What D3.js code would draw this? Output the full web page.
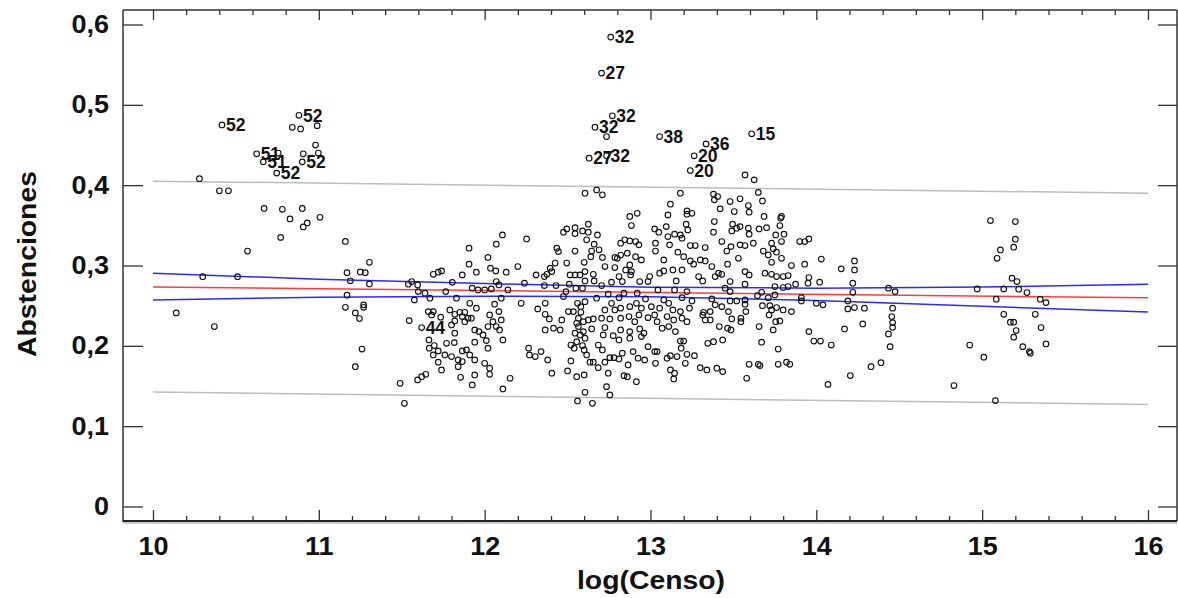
<!DOCTYPE html>
<html>
<head>
<meta charset="utf-8">
<script src="https://cdn.jsdelivr.net/npm/d3@7"></script>
<style>
html,body{margin:0;padding:0;background:#fff;}
svg{display:block;}
text{font-family:"Liberation Sans",Arial,sans-serif;font-weight:bold;fill:#111;}
</style>
</head>
<body>
<script>
// ---------- DATA ----------
const xTicks = [10, 11, 12, 13, 14, 15, 16];
const xTickLabels = ["10", "11", "12", "13", "14", "15", "16"];
const yTicks = [0, 0.1, 0.2, 0.3, 0.4, 0.5, 0.6];
const yTickLabels = ["0", "0,1", "0,2", "0,3", "0,4", "0,5", "0,6"];
const xTitle = "log(Censo)";
const yTitle = "Abstenciones";

// labelled observations [log(Censo), Abstenciones, label]
const labelled = [
  [10.416,0.475,"52"],[10.88,0.487,"52"],[10.625,0.439,"51"],[10.665,0.429,"51"],
  [10.746,0.415,"52"],[10.90,0.429,"52"],[11.62,0.2227,"44"],
  [12.76,0.5843,"32"],[12.705,0.5395,"27"],[12.77,0.4863,"32"],[12.665,0.4722,"32"],
  [12.63,0.4336,"27"],[12.735,0.4365,"32"],[13.055,0.4605,"38"],[13.335,0.4514,"36"],
  [13.263,0.4365,"20"],[13.24,0.4182,"20"],[13.61,0.4639,"15"]
];

// unlabelled observations [log(Censo), Abstenciones]
const groupWest = [
  [10.84,0.472],[10.89,0.470],[10.99,0.474],[10.98,0.450],[10.755,0.440],[10.906,0.439],
  [10.997,0.440],[10.28,0.408],[10.40,0.393],[10.455,0.393],[10.67,0.371],[10.78,0.370],
  [10.90,0.371],[10.826,0.358],[10.906,0.348],[10.93,0.353],[11.007,0.360],[10.77,0.335],
  [10.57,0.318],[10.30,0.286],[10.51,0.286],[10.14,0.241],[10.37,0.224],[11.16,0.330],
  [11.17,0.291],[11.19,0.281],[11.25,0.292],[11.28,0.291],[11.305,0.304],[11.305,0.277],
  [11.17,0.263],[11.16,0.248],[11.22,0.241],[11.245,0.234],[11.27,0.251],[11.27,0.248],
  [11.26,0.196],[11.22,0.174],[11.516,0.1285],[12.735,0.4605]
];
const groupA = [
  [11.906,0.3215],[12.07,0.3265],[12.02,0.310],[11.906,0.3016],[12.035,0.2966],[11.69,0.289],
  [11.72,0.2917],[11.74,0.2933],[11.865,0.2883],[11.95,0.2917],[11.805,0.279],[11.56,0.280],
  [11.54,0.2767],[11.596,0.2758],[11.60,0.2675],[11.64,0.2655],[11.67,0.2593],[11.576,0.2572],
  [11.765,0.2675],[11.83,0.2593],[11.925,0.2717],[11.96,0.2696],[12.0,0.2696],[12.04,0.2709],
  [12.06,0.2518],[11.91,0.253],[11.95,0.2468],[11.79,0.2447],[11.66,0.2426],[11.69,0.2426],
  [11.68,0.2385],[11.735,0.2356],[11.82,0.2393],[11.85,0.2418],[11.88,0.2418],[11.865,0.2364],
  [11.90,0.2344],[11.92,0.2344],[11.82,0.231],[11.88,0.2301],[11.545,0.2314],[11.80,0.226],
  [12.03,0.2385],[12.05,0.2301],[12.07,0.224],[12.02,0.224],[11.94,0.2198],[11.966,0.2177],
  [11.82,0.2157],[11.99,0.2136],[11.664,0.2073],[11.696,0.2003],[11.666,0.197],[11.77,0.2032],
  [11.817,0.204],[11.94,0.2045],[12.01,0.2065],[12.02,0.197],[11.72,0.1937],[11.69,0.1887],
  [11.76,0.1887],[11.80,0.1866],[11.865,0.1937],[11.89,0.195],[11.91,0.1887],[11.94,0.1825],
  [11.84,0.1825],[11.865,0.1804],[11.72,0.1796],[11.84,0.1741],[12.0,0.1783],[12.03,0.1721],
  [12.03,0.1646],[11.74,0.170],[11.645,0.1646],[11.62,0.1616],[11.596,0.1575],[11.49,0.1534],
  [11.855,0.1608],[11.94,0.1638],[11.925,0.1513]
];
const groupB = [
  [12.605,0.390],[12.675,0.394],[12.71,0.388],[12.107,0.338],[12.253,0.333],[12.475,0.3415],
  [12.495,0.3455],[12.545,0.347],[12.545,0.3397],[12.625,0.3514],[12.59,0.343],[12.625,0.3415],
  [12.68,0.338],[12.615,0.332],[12.66,0.3265],[12.435,0.3215],[12.445,0.3173],[12.545,0.318],
  [12.645,0.318],[12.69,0.3195],[12.64,0.311],[12.71,0.310],[12.785,0.310],[12.425,0.303],
  [12.495,0.303],[12.60,0.304],[12.725,0.2987],[12.785,0.2975],[12.20,0.2987],[12.13,0.2917],
  [12.067,0.2933],[12.395,0.2966],[12.405,0.2924],[12.375,0.289],[12.31,0.2883],[12.36,0.2862],
  [12.515,0.2883],[12.545,0.2883],[12.575,0.2883],[12.605,0.2924],[12.655,0.289],[12.605,0.2808],
  [12.66,0.2808],[12.705,0.275],[12.765,0.2792],[12.24,0.278],[12.36,0.275],[12.43,0.275],
  [12.51,0.2767],[12.55,0.2717],[12.59,0.2717],[12.49,0.2675],[12.07,0.280],[12.086,0.2758],
  [12.14,0.2696],[12.10,0.2593],[12.475,0.2613],[12.22,0.253],[12.365,0.253],[12.56,0.253],
  [12.605,0.255],[12.675,0.2593],[12.745,0.2643],[12.765,0.253],[12.725,0.2447],[12.785,0.2447],
  [12.32,0.246],[12.365,0.2393],[12.39,0.2335],[12.465,0.2322],[12.505,0.2426],[12.535,0.2426],
  [12.58,0.2418],[12.625,0.2322],[12.655,0.2335],[12.565,0.2344],[12.705,0.2344],[12.755,0.2335],
  [12.086,0.2426],[12.10,0.2322],[12.09,0.2198],[12.11,0.2073],[12.365,0.2198],[12.415,0.222],
  [12.455,0.2198],[12.565,0.224],[12.545,0.2157],[12.595,0.2177],[12.645,0.221],[12.725,0.2227],
  [12.715,0.2136],[12.775,0.2127],[12.555,0.2052],[12.59,0.2003],[12.52,0.201],[12.60,0.1949],
  [12.685,0.201],[12.71,0.1949],[12.265,0.197],[12.27,0.1887],[12.305,0.1866],[12.34,0.1928],
  [12.38,0.1825],[12.52,0.1812],[12.635,0.1796],[12.655,0.1796],[12.755,0.1853],[12.78,0.1853],
  [12.725,0.1796],[12.685,0.1728],[12.405,0.1659],[12.50,0.1687],[12.555,0.1616],[12.60,0.1638],
  [12.745,0.1659],[12.153,0.1596],[12.11,0.1463],[12.735,0.1492],[12.755,0.1389],[12.605,0.1422],
  [12.56,0.1314],[12.65,0.1285],[12.58,0.2488],[12.595,0.2301],[12.555,0.2281],[12.575,0.2136],
  [12.605,0.2095],[12.54,0.197],[12.615,0.1887]
];
const groupC = [
  [13.18,0.390],[13.38,0.3888],[13.405,0.3858],[13.385,0.3817],[13.42,0.3705],[13.12,0.3763],
  [13.22,0.368],[13.25,0.365],[13.22,0.3639],[13.105,0.363],[12.875,0.361],[12.92,0.365],
  [12.885,0.3497],[13.095,0.3484],[13.215,0.3514],[13.385,0.3547],[13.48,0.3796],[13.505,0.3671],
  [13.025,0.3455],[13.05,0.3415],[13.105,0.336],[13.145,0.339],[13.18,0.338],[13.225,0.3443],
  [13.19,0.334],[13.38,0.3415],[13.495,0.3514],[13.49,0.343],[13.52,0.3464],[12.82,0.3278],
  [12.845,0.332],[12.875,0.3306],[12.91,0.3298],[12.93,0.3257],[13.03,0.3278],[13.03,0.318],
  [13.115,0.3257],[13.24,0.3248],[13.27,0.3248],[13.33,0.3223],[13.43,0.3298],[13.46,0.318],
  [13.485,0.3235],[12.86,0.3153],[12.91,0.311],[12.945,0.307],[13.08,0.307],[13.165,0.3166],
  [13.2,0.311],[13.24,0.3057],[13.26,0.3016],[13.30,0.307],[13.33,0.3057],[13.37,0.2987],
  [13.465,0.3016],[13.41,0.2904],[13.43,0.289],[12.875,0.3007],[12.80,0.309],[12.81,0.2862],
  [12.88,0.2883],[12.885,0.2924],[12.935,0.280],[12.985,0.280],[12.995,0.2862],[13.055,0.2904],
  [13.08,0.2933],[13.135,0.2945],[13.19,0.2945],[13.155,0.2808],[13.29,0.2862],[13.315,0.2808],
  [13.39,0.2862],[13.48,0.280],[12.85,0.2945],[12.83,0.280],[13.045,0.2696],[13.145,0.2696],
  [13.22,0.2675],[13.45,0.2717],[13.48,0.2675],[12.84,0.2655],[12.92,0.2655],[12.97,0.2584],
  [12.81,0.260],[13.08,0.2572],[13.11,0.253],[13.19,0.260],[13.25,0.2559],[13.37,0.2584],
  [13.39,0.251],[13.48,0.2559],[13.43,0.2488],[12.82,0.2468],[12.875,0.2488],[12.915,0.253],
  [12.945,0.2468],[13.005,0.2488],[13.055,0.2468],[13.135,0.2447],[13.18,0.2426],[13.235,0.2468],
  [13.32,0.2418],[13.36,0.2426],[13.47,0.2426],[12.82,0.2344],[12.87,0.2364],[12.93,0.2385],
  [12.905,0.2301],[12.985,0.2351],[13.025,0.2385],[13.04,0.2301],[13.10,0.2364],[13.14,0.2322],
  [13.19,0.2344],[13.22,0.2301],[13.315,0.2385],[13.33,0.2322],[13.36,0.2322],[13.49,0.2335],
  [13.415,0.224],[13.465,0.222],[13.485,0.2198],[12.82,0.2198],[12.875,0.2177],[12.935,0.221],
  [12.96,0.2157],[13.07,0.222],[13.15,0.2177],[13.11,0.224],[12.81,0.2073],[12.875,0.2095],
  [12.945,0.2115],[13.18,0.206],[13.20,0.206],[13.185,0.197],[13.345,0.2032],[13.38,0.2052],
  [13.435,0.2073],[12.985,0.199],[13.025,0.1928],[13.04,0.1928],[12.83,0.1908],[12.81,0.1837],
  [12.895,0.1928],[12.925,0.1846],[12.965,0.1825],[13.03,0.1783],[13.10,0.1846],[13.12,0.1878],
  [13.16,0.1866],[13.22,0.1895],[13.265,0.1878],[13.21,0.1783],[12.865,0.1762],[13.30,0.1728],
  [13.34,0.170],[13.40,0.1721],[13.435,0.1679],[13.12,0.170],[13.145,0.1659],[13.14,0.1588],
  [12.84,0.1629],[12.86,0.1616],[12.915,0.1554],[12.82,0.313]
];
const groupD = [
  [13.57,0.4128],[13.625,0.4066],[13.65,0.391],[13.675,0.3804],[13.54,0.383],[13.59,0.3746],
  [13.595,0.3664],[13.685,0.361],[13.79,0.361],[13.785,0.359],[13.54,0.3484],[13.59,0.3465],
  [13.595,0.339],[13.655,0.3455],[13.70,0.347],[13.78,0.3497],[13.755,0.338],[13.805,0.339],
  [13.90,0.3298],[13.93,0.3298],[13.955,0.333],[13.54,0.3257],[13.57,0.3248],[13.62,0.3278],
  [13.73,0.3278],[13.79,0.3298],[13.74,0.3207],[13.76,0.3166],[13.68,0.318],[13.71,0.3132],
  [13.79,0.309],[13.73,0.304],[13.85,0.300],[13.93,0.3016],[14.03,0.308],[14.15,0.2958],
  [14.23,0.3057],[14.23,0.2945],[13.53,0.309],[13.57,0.2924],[13.595,0.2883],[13.69,0.2904],
  [13.73,0.289],[13.76,0.2862],[13.80,0.2862],[13.83,0.2875],[13.955,0.285],[13.95,0.278],
  [14.02,0.2792],[13.875,0.2767],[13.83,0.2738],[13.80,0.2725],[13.75,0.2738],[13.57,0.2767],
  [14.22,0.278],[14.22,0.2667],[13.67,0.2667],[13.645,0.2625],[13.71,0.260],[13.75,0.2634],
  [13.57,0.2572],[13.52,0.2559],[13.91,0.260],[13.91,0.2559],[14.0,0.253],[14.04,0.251],
  [14.19,0.2559],[14.19,0.246],[14.23,0.2476],[13.675,0.250],[13.72,0.250],[13.73,0.2447],
  [13.76,0.2476],[13.80,0.2447],[13.85,0.2426],[13.57,0.2518],[13.575,0.2426],[13.545,0.2344],
  [13.545,0.2301],[13.715,0.2385],[13.755,0.2301],[13.78,0.231],[13.74,0.2198],[13.655,0.224],
  [13.955,0.2177],[13.985,0.206],[14.025,0.206],[14.09,0.201],[14.17,0.221],[13.67,0.2045],
  [13.77,0.196],[13.595,0.177],[13.65,0.177],[13.66,0.1755],[13.77,0.177],[13.82,0.1796],
  [13.84,0.177],[13.58,0.1596],[14.07,0.152],[14.205,0.163]
];
const groupEast = [
  [14.29,0.2468],[14.28,0.2273],[14.435,0.2717],[14.475,0.2675],[14.46,0.2468],[14.455,0.2364],
  [14.46,0.2289],[14.46,0.2231],[14.435,0.2148],[14.445,0.199],[14.39,0.179],[14.33,0.174],
  [14.925,0.201],[15.01,0.1858],[14.83,0.1505],[15.08,0.1318],[15.05,0.356],[15.20,0.3547],
  [15.20,0.3328],[15.19,0.3228],[15.11,0.3194],[15.09,0.309],[15.18,0.2842],[15.21,0.280],
  [14.97,0.2709],[15.13,0.2709],[15.22,0.2705],[15.27,0.2663],[15.085,0.258],[15.35,0.258],
  [15.385,0.2538],[15.13,0.2393],[15.32,0.2393],[15.17,0.2294],[15.19,0.2294],[15.205,0.219],
  [15.19,0.2107],[15.355,0.2227],[15.245,0.199],[15.285,0.1928],[15.29,0.1908],[15.385,0.2024]
];

// fitted line and bands [log(Censo), Abstenciones]
const fitLine    = [[10,0.2733],[16,0.2597]];
const confUpper  = [[10,0.2904],[11,0.2830],[12,0.2775],[13,0.2730],[14,0.2718],[15,0.2732],[16,0.2767]];
const confLower  = [[10,0.2572],[11,0.2605],[12,0.2618],[13,0.2612],[14,0.2563],[15,0.2493],[16,0.2422]];
const predUpper  = [[10,0.4050],[16,0.3900]];
const predLower  = [[10,0.1425],[16,0.1270]];

// ---------- CHART ----------
const W = 1178, H = 598;
const svg = d3.select("body").append("svg").attr("width", W).attr("height", H);
const frame = {left: 123, right: 1177, top: 10, bottom: 521};

const x = d3.scaleLinear().domain([10, 16]).range([153, 1148]);
const y = d3.scaleLinear().domain([0, 0.6]).range([506.5, 24.5]);

const minorX = d3.range(10, 16.001, 0.2).filter(v => Math.abs(v - Math.round(v)) > 1e-6);

// frame
svg.append("line").attr("x1", frame.left).attr("x2", frame.right).attr("y1", frame.top).attr("y2", frame.top)
  .attr("stroke", "#333").attr("stroke-width", 1.5);
svg.append("line").attr("x1", frame.left).attr("x2", frame.left).attr("y1", frame.top).attr("y2", frame.bottom + 1)
  .attr("stroke", "#333").attr("stroke-width", 1.5);
svg.append("line").attr("x1", frame.right).attr("x2", frame.right).attr("y1", frame.top).attr("y2", frame.bottom)
  .attr("stroke", "#333").attr("stroke-width", 1.5);
svg.append("line").attr("x1", frame.left).attr("x2", frame.right).attr("y1", frame.bottom).attr("y2", frame.bottom)
  .attr("stroke", "#222").attr("stroke-width", 2);
svg.append("line").attr("x1", frame.left).attr("x2", frame.right).attr("y1", frame.bottom + 2).attr("y2", frame.bottom + 2)
  .attr("stroke", "#999").attr("stroke-width", 1);

function styleAxis(g) {
  g.select(".domain").remove();
  g.selectAll(".tick line").attr("stroke", "#333").attr("stroke-width", 1.3);
  g.selectAll("text").attr("font-size", 25).attr("font-weight", "bold")
    .attr("font-family", '"Liberation Sans", Arial, sans-serif').attr("fill", "#111");
}

// bottom axis
const gB = svg.append("g").attr("transform", `translate(0,${frame.bottom})`)
  .call(d3.axisBottom(x).tickValues(xTicks).tickSize(-11).tickPadding(16)
    .tickFormat((d, i) => xTickLabels[i]));
styleAxis(gB);
gB.selectAll("text").attr("transform", "scale(1.08,1)");
const gBm = svg.append("g").attr("transform", `translate(0,${frame.bottom})`)
  .call(d3.axisBottom(x).tickValues(minorX).tickSize(-5).tickFormat(""));
styleAxis(gBm);

// top axis
const gT = svg.append("g").attr("transform", `translate(0,${frame.top})`)
  .call(d3.axisTop(x).tickValues(xTicks).tickSize(-10).tickFormat(""));
styleAxis(gT);
const gTm = svg.append("g").attr("transform", `translate(0,${frame.top})`)
  .call(d3.axisTop(x).tickValues(minorX).tickSize(-5).tickFormat(""));
styleAxis(gTm);

// left axis
const gL = svg.append("g").attr("transform", `translate(${frame.left},0)`)
  .call(d3.axisLeft(y).tickValues(yTicks).tickSize(-20).tickPadding(13)
    .tickFormat((d, i) => yTickLabels[i]));
styleAxis(gL);
gL.selectAll("text").attr("transform", "scale(1.08,1)");

// right axis
const gR = svg.append("g").attr("transform", `translate(${frame.right},0)`)
  .call(d3.axisRight(y).tickValues(yTicks).tickSize(-19).tickFormat(""));
styleAxis(gR);

// titles
svg.append("text").attr("x", 651).attr("y", 589).attr("text-anchor", "middle")
  .attr("font-size", 26).attr("textLength", 148).attr("lengthAdjust", "spacingAndGlyphs").text(xTitle);
svg.append("text").attr("transform", "translate(36,264) rotate(-90)").attr("text-anchor", "middle")
  .attr("font-size", 26).attr("textLength", 186).attr("lengthAdjust", "spacingAndGlyphs").text(yTitle);

// lines
const line = d3.line().x(d => x(d[0])).y(d => y(d[1]));
const drawLine = (data, color) => svg.append("path").datum(data).attr("d", line)
  .attr("fill", "none").attr("stroke", color).attr("stroke-width", 1.5);
drawLine(predUpper, "#bdbdbd");
drawLine(predLower, "#bdbdbd");
drawLine(confUpper, "#2a2aff");
drawLine(confLower, "#2a2aff");
drawLine(fitLine, "#ff3a3a");

// points
const allPts = [].concat(groupWest, groupA, groupB, groupC, groupD, groupEast, labelled.map(d => [d[0], d[1]]));
svg.append("g").selectAll("circle").data(allPts).join("circle")
  .attr("cx", d => x(d[0])).attr("cy", d => y(d[1])).attr("r", 2.8)
  .attr("fill", "none").attr("stroke", "#141414").attr("stroke-width", 1.15);

// labels
svg.append("g").selectAll("text").data(labelled).join("text")
  .attr("x", d => x(d[0]) + 4).attr("y", d => y(d[1]))
  .attr("dy", "0.36em").attr("font-size", 17.5).attr("fill", "#111")
  .text(d => d[2]);
</script>
</body>
</html>
